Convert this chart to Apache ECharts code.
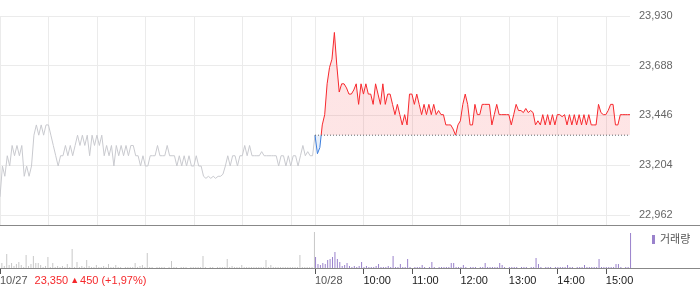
<!DOCTYPE html>
<html><head><meta charset="utf-8">
<script src="https://cdn.jsdelivr.net/npm/echarts@6/dist/echarts.min.js"></script>
<style>html,body{margin:0;padding:0;background:#fff}#c{width:700px;height:289px}</style>
</head><body><div id="c"></div><script>
// ---- data ----
const STEP = 3;          // minutes between samples
const SESSION = 390;     // minutes in one session (09:00-15:30)
const BASE = 23350;      // previous close (10/27)
const day1Price = [
23050,23200,23150,23250,23200,23300,23250,23300,23250,23300,
23150,23200,23150,23200,23350,23400,23350,23400,23350,23400,
23400,23350,23300,23250,23200,23250,23250,23300,23250,23300,
23250,23300,23350,23300,23350,23300,23350,23250,23350,23300,
23350,23300,23350,23250,23300,23250,23300,23200,23300,23250,
23300,23250,23300,23250,23300,23300,23250,23250,23200,23250,
23200,23200,23250,23250,23250,23300,23250,23250,23250,23300,
23250,23250,23250,23200,23250,23200,23250,23200,23250,23200,
23200,23250,23200,23200,23150,23140,23150,23140,23150,23140,
23150,23150,23160,23200,23250,23200,23250,23250,23200,23250,
23250,23300,23250,23300,23250,23250,23250,23250,23270,23250,
23250,23250,23250,23250,23250,23200,23250,23250,23200,23250,
23200,23250,23250,23200,23250,23300,23250,23270,23250,23250,
23350];
const day2Price = [
23350,23260,23290,23400,23450,23600,23680,23720,23850,23690,
23560,23600,23600,23580,23550,23550,23570,23600,23500,23600,
23550,23600,23550,23550,23500,23600,23550,23500,23600,23500,
23550,23550,23500,23450,23500,23450,23400,23450,23400,23550,
23550,23500,23550,23500,23450,23500,23450,23500,23450,23500,
23450,23470,23450,23450,23400,23400,23400,23380,23350,23400,
23420,23500,23550,23500,23400,23400,23500,23450,23450,23500,
23500,23500,23500,23400,23450,23500,23450,23450,23450,23450,
23450,23400,23450,23500,23470,23470,23460,23480,23460,23470,
23460,23400,23420,23400,23450,23400,23450,23400,23450,23400,
23450,23450,23440,23450,23400,23450,23400,23450,23400,23450,
23400,23450,23400,23450,23400,23400,23400,23500,23460,23450,
23450,23470,23500,23500,23400,23400,23450,23450,23450,23450,
23450];
const day1Vol = [
1800,600,300,1500,400,600,300,500,700,400,
200,1400,300,500,1300,600,600,400,200,300,
1200,200,600,200,300,200,300,200,500,200,
2000,200,700,200,300,200,900,300,200,200,
400,200,200,300,200,500,200,200,400,200,
200,100,200,200,200,200,600,200,300,400,
200,1600,200,200,100,200,200,200,200,100,
200,800,200,200,100,200,200,200,100,200,
200,200,200,200,1300,200,100,200,200,100,
200,200,200,200,1000,200,300,200,200,200,
400,200,200,200,200,200,200,200,200,200,
900,200,400,200,200,200,200,200,200,200,
200,200,200,200,1400,200,200,200,200,200,
3700];
const day2Vol = [
1200,500,400,600,500,900,1000,1200,1700,1000,
700,300,400,600,300,200,300,200,300,700,
200,300,200,200,200,300,500,200,200,200,
300,200,1300,200,200,500,200,200,1000,200,
100,200,200,200,400,200,100,200,700,200,
100,200,200,200,200,200,600,600,200,200,
200,400,200,100,200,200,200,100,200,200,
600,200,200,200,200,200,600,400,200,100,
200,200,200,200,100,200,200,200,100,200,
200,1100,500,200,100,200,200,200,100,200,
200,200,200,200,400,200,200,100,200,200,
200,400,200,200,200,200,200,1000,200,200,
200,200,200,200,500,500,200,100,200,200,
3600];
const priceTicks = [22962, 23204, 23446, 23688, 23930];
const PRICE_MIN = 22913, PRICE_MAX = 23930;
const VOL_MAX = 4400;
const gridMinutes = [0,60,120,180,240,300,360,390,450,510,570,630,690,750];
const axisMinutes = [0,390,450,510,570,630,690,750];
const axisNames = ['10/27','10/28','10:00','11:00','12:00','13:00','14:00','15:00'];
const closeText = '23,350', arrowText = '▲', changeText = '450', pctText = '(+1,97%)';
const volName = '거래량';

// ---- chart ----
const FONT = '"Liberation Sans", Arial, "Noto Sans CJK KR", sans-serif';
const fmt = v => Math.round(v).toLocaleString('en-US');
const d1 = day1Price.map((v,i)=>[i*STEP, v]);
const d2 = day2Price.map((v,i)=>[SESSION + i*STEP, v]);
const v1 = day1Vol.map((v,i)=>[i*STEP, v]);
const v2 = day2Vol.map((v,i)=>[SESSION + i*STEP, v]);
const chart = echarts.init(document.getElementById('c'));
chart.setOption({
  animation:false,
  textStyle:{fontFamily:FONT},
  grid:[
    {left:0,right:70,top:16,height:209,outerBoundsMode:'none'},
    {left:0,right:70,top:225,height:44,outerBoundsMode:'none'}
  ],
  xAxis:[
    {gridIndex:0,type:'value',min:0,max:2*SESSION,
     axisLine:{show:false},axisTick:{show:false,customValues:gridMinutes},
     axisLabel:{show:false},splitLine:{show:true,lineStyle:{color:'#ebebeb',width:1}}},
    {gridIndex:1,type:'value',min:0,max:2*SESSION,
     axisLine:{show:false},
     axisTick:{show:true,customValues:axisMinutes,length:5,lineStyle:{color:'#555'}},
     axisLabel:{customValues:axisMinutes,align:'left',margin:6,fontSize:11,fontFamily:FONT,
       formatter:function(v){
         const k = axisMinutes.indexOf(v);
         const name = axisNames[k] || '';
         if (k===0) return '{d|'+name+'}{p|'+closeText+'}{t|'+arrowText+'}{r|'+changeText+'}{q|'+pctText+'}';
         if (k===1) return '{d|'+name+'}';
         return '{h|'+name+'}';
       },
       rich:{
         d:{color:'#555',fontSize:11,fontFamily:FONT},
         h:{color:'#222',fontSize:11,fontFamily:FONT},
         p:{color:'#f5282b',fontSize:11,fontFamily:FONT,padding:[0,0,0,7]},
         t:{color:'#f5282b',fontSize:9,fontFamily:FONT,padding:[0,1,0,2]},
         r:{color:'#f5282b',fontSize:11,fontFamily:FONT},
         q:{color:'#f5282b',fontSize:11,fontFamily:FONT,padding:[0,0,0,3]}
       }},
     splitLine:{show:false}}
  ],
  yAxis:[
    {gridIndex:0,type:'value',position:'right',min:PRICE_MIN,max:PRICE_MAX,
     axisLine:{show:false},axisTick:{show:false,customValues:priceTicks},
     axisLabel:{customValues:priceTicks,formatter:fmt,color:'#666',fontSize:11,margin:9,fontFamily:FONT},
     splitLine:{show:true,lineStyle:{color:'#ebebeb'}}},
    {gridIndex:1,type:'value',min:0,max:VOL_MAX,show:false}
  ],
  visualMap:{type:'piecewise',show:false,seriesIndex:1,dimension:1,
    pieces:[{gte:PRICE_MIN-100,lt:BASE,color:'#3b7ddd'},{gte:BASE,lte:PRICE_MAX+100,color:'#f7282d'}]},
  legend:{data:[volName],left:652,top:234,icon:'rect',itemWidth:3,itemHeight:9,padding:0,
    textStyle:{color:'#555',fontSize:11,fontFamily:FONT}},
  series:[
    {type:'line',xAxisIndex:0,yAxisIndex:0,data:d1,showSymbol:false,
     lineStyle:{color:'#c9cacf',width:1},itemStyle:{color:'#c9cacf'},z:3},
    {type:'line',xAxisIndex:0,yAxisIndex:0,data:d2,showSymbol:false,
     lineStyle:{width:1},areaStyle:{origin:BASE,opacity:0.12},z:4},
    {type:'line',xAxisIndex:0,yAxisIndex:0,data:[[SESSION,BASE],[2*SESSION,BASE]],showSymbol:false,silent:true,
     lineStyle:{color:'#666',type:[1,2],width:1},itemStyle:{color:'#666'},z:5},
    {type:'bar',name:'prev',xAxisIndex:1,yAxisIndex:1,data:v1,barWidth:1,
     itemStyle:{color:'#c8c8c8'}},
    {type:'bar',name:volName,xAxisIndex:1,yAxisIndex:1,data:v2,barWidth:1,
     itemStyle:{color:'#9a82cc'}}
  ],
  graphic:[
    {type:'line',z:100,silent:true,shape:{x1:0,y1:225.5,x2:700,y2:225.5},style:{stroke:'#888',lineWidth:1}},
    {type:'line',z:100,silent:true,shape:{x1:0,y1:268.5,x2:700,y2:268.5},style:{stroke:'#888',lineWidth:1}}
  ]
});
</script></body></html>
